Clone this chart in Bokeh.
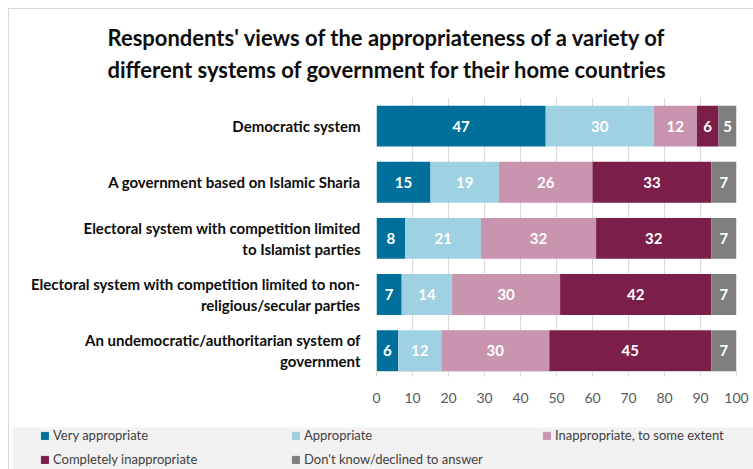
import numpy as np
from bokeh.plotting import figure
from bokeh.layouts import column
from bokeh.models import (Range1d, FixedTicker, Legend, LegendItem, Title,
                          ColumnDataSource, InlineStyleSheet)
from bokeh.core.properties import value
from bokeh.embed import file_html
from bokeh.resources import INLINE

# ---- data ----
categories = [
    "Democratic system",
    "A government based on Islamic Sharia",
    "Electoral system with competition limited\nto Islamist parties",
    "Electoral system with competition limited to non-\nreligious/secular parties",
    "An undemocratic/authoritarian system of\ngovernment",
]
series_names = [
    "Very appropriate",
    "Appropriate",
    "Inappropriate, to some extent",
    "Completely inappropriate",
    "Don't know/declined to answer",
]
very_appropriate = [47, 15, 8, 7, 6]
appropriate = [30, 19, 21, 14, 12]
inappropriate_some = [12, 26, 32, 30, 30]
completely_inappropriate = [6, 33, 32, 42, 45]
dont_know = [5, 7, 7, 7, 7]
x_ticks = [0, 10, 20, 30, 40, 50, 60, 70, 80, 90, 100]
title_text = ("Respondents' views of the appropriateness of a variety of\n"
              "different systems of government for their home countries")

colors = ["#00709b", "#9ed1e1", "#c995ae", "#7c1f48", "#7f7f7f"]
FONT = "Lato"

series = [very_appropriate, appropriate, inappropriate_some,
          completely_inappropriate, dont_know]
ypos = list(range(len(categories)))[::-1]

data = {"y": ypos}
for name, vals in zip(series_names, series):
    data[name] = vals
src = ColumnDataSource(data)

p = figure(width=753, height=427, output_backend="svg", toolbar_location=None,
           x_range=Range1d(0, 100), y_range=Range1d(-0.372, 4.51),
           min_border_left=376, min_border_right=17, min_border_top=97,
           min_border_bottom=56)
p.outline_line_color = None
p.frame_align = False

p.hbar_stack(series_names, y="y", height=0.73, color=colors,
             line_color=None, source=src)

# data labels
lx, ly, lt = [], [], []
arr = np.array(series, dtype=float)
cum = np.cumsum(arr, axis=0)
for i in range(arr.shape[0]):
    for j in range(arr.shape[1]):
        lx.append(cum[i, j] - arr[i, j] / 2)
        ly.append(ypos[j])
        lt.append(str(int(arr[i, j])))
p.text(x=lx, y=ly, text=lt, text_align="center", text_baseline="middle",
       text_color="white", text_font=value(FONT), text_font_style="bold",
       text_font_size="15px")

# axes
p.xaxis.ticker = FixedTicker(ticks=x_ticks)
p.xaxis.axis_line_color = "#d9d9d9"
p.xaxis.major_tick_line_color = "#d9d9d9"
p.xaxis.major_tick_in = 0
p.xaxis.major_tick_out = 5
p.xaxis.minor_tick_line_color = None
p.xaxis.major_label_text_color = "#595959"
p.xaxis.major_label_text_font = FONT
p.xaxis.major_label_text_font_size = "14px"
p.xaxis.major_label_standoff = 16

p.yaxis.ticker = FixedTicker(ticks=ypos)
p.yaxis.major_label_overrides = {y: c for y, c in zip(ypos, categories)}
p.yaxis.axis_line_color = None
p.yaxis.major_tick_line_color = None
p.yaxis.minor_tick_line_color = None
p.yaxis.major_label_text_font = FONT
p.yaxis.major_label_text_font_style = "bold"
p.yaxis.major_label_text_font_size = "15px"
p.yaxis.major_label_text_color = "#0d0d0d"
p.yaxis.major_label_standoff = 10

p.xgrid.grid_line_color = "#d9d9d9"
p.ygrid.grid_line_color = None

# title
p.add_layout(Title(text=title_text, align="left", text_font=FONT,
                   text_font_size="22px", text_font_style="bold",
                   text_line_height=1.18,
                   text_color="#0d0d0d", offset=-269, standoff=29), "above")

# legend strip (separate figure)
lg = figure(width=753, height=42, output_backend="svg", toolbar_location=None,
            x_range=Range1d(0, 1), y_range=Range1d(0, 1),
            x_axis_type=None, y_axis_type=None,
            min_border_left=12, min_border_right=0, min_border_top=0,
            min_border_bottom=0)
lg.frame_align = False
lg.outline_line_color = None
lg.background_fill_color = "#f2f2f2"
lg.xgrid.grid_line_color = None
lg.ygrid.grid_line_color = None
hidden = ColumnDataSource({"y": [-10], "r": [-10]})
dummies = [lg.hbar(y="y", right="r", height=1, color=c, source=hidden)
           for c in colors]

legend = Legend(items=[LegendItem(label=n, renderers=[r])
                       for n, r in zip(series_names, dummies)],
                location=(28, 2), orientation="horizontal", ncols=3,
                glyph_width=9, glyph_height=9, label_standoff=4,
                label_width=230, label_height=16, spacing=8, padding=0,
                margin=0, background_fill_alpha=0, border_line_color=None,
                label_text_font=FONT, label_text_font_size="13px",
                label_text_color="#404040")
lg.add_layout(legend)

frame_css = InlineStyleSheet(css=""":host::after {
  content: ""; position: absolute; left: 8px; top: 8px;
  right: -20px; bottom: -20px; pointer-events: none;
  border-left: 1px solid #d9d9d9; border-top: 1px solid #d9d9d9;
}""")
layout = column(p, lg, spacing=0, stylesheets=[frame_css])
open("out.html", "w").write(file_html(layout, INLINE))
